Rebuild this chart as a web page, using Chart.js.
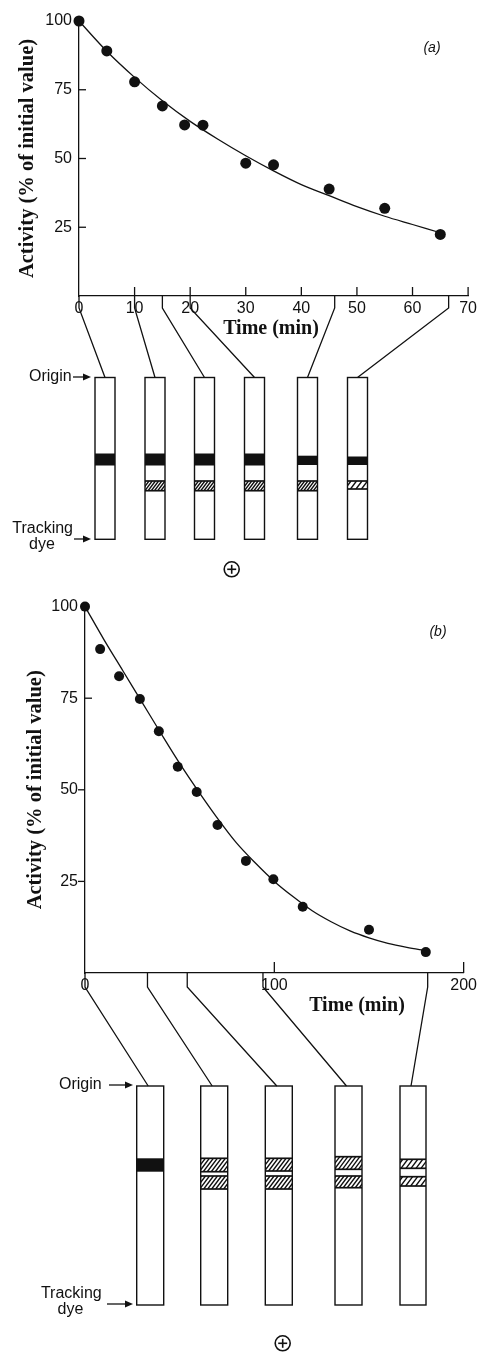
<!DOCTYPE html>
<html>
<head>
<meta charset="utf-8">
<title>Activity decay and gel lanes</title>
<script src="https://cdn.jsdelivr.net/npm/chart.js@4.4.1/dist/chart.umd.min.js"></script>
<style>
    html, body { margin: 0; padding: 0; background: #fff; }
    #wrap { position: relative; width: 480px; height: 1352px; overflow: hidden; }
    canvas { position: absolute; left: 0; }
    #chartA { top: 0; }
    #chartB { top: 590px; }
</style>
</head>
<body>
<div id="wrap">
    <canvas id="chartA" width="480" height="590" style="width:480px;height:590px"></canvas>
    <canvas id="chartB" width="480" height="762" style="width:480px;height:762px"></canvas>
</div>
<script>
// ---- panel (a) data ----
const timeA = [0, 5, 10, 15, 19, 22.3, 30, 35, 45, 55, 65];
const activityA = [100, 89.1, 77.9, 69.1, 62.2, 62.1, 48.3, 47.7, 38.9, 31.9, 22.4];
const fitTimeA = [0, 5, 10, 15, 20, 25, 30, 35, 40, 45, 50, 55, 60, 65];
const fitActivityA = [100, 89, 79.5, 71, 63.5, 57, 51, 45.5, 40.5, 36.5, 32.5, 29, 26, 23];
const gelTimeA = [0, 10, 15, 20, 46, 66.5];
const xTickMarksA = [10, 20, 30, 40, 50, 60, 70];

// ---- panel (b) data ----
const timeB = [0, 8, 18, 29, 39, 49, 59, 70, 85, 99.5, 115, 150, 180];
const activityB = [100, 88.4, 81, 74.8, 66, 56.3, 49.4, 40.4, 30.6, 25.6, 18.1, 11.8, 5.7];
const fitTimeB = [0, 10, 20, 30, 40, 50, 60, 70, 80, 90, 100, 110, 120, 130, 140, 150, 160, 170, 180];
const fitActivityB = [100, 91, 82.5, 74, 65.5, 57.2, 49.5, 42.2, 35.5, 30, 25, 20.8, 17, 14, 11.5, 9.6, 8.1, 7, 6.1];
const gelTimeB = [0, 33, 54, 94, 181];
const xTickMarksB = [100, 200];

// shared
const yTitle = 'Activity (% of initial value)';
const xTitle = 'Time (min)';

const INK = '#111';
const SANS = '"Liberation Sans", Arial, sans-serif';
const SERIF = '"Liberation Serif", "Times New Roman", serif';

Chart.defaults.font.family = SANS;
Chart.defaults.color = INK;

// gel drawing layout (pixels, per canvas)
const gelA = {
    laneLeft: [95, 145, 194.5, 244.5, 297.5, 347.5],
    laneWidth: [20, 20, 20, 20, 20, 20],
    top: 377.5, bottom: 539.3, drop: 12, endShift: 0,
    bands: [
        [['dark', 453.5, 465.5]],
        [['dark', 453.5, 465.5], ['hatch', 481, 490.7, 3.2]],
        [['dark', 453.5, 465.5], ['hatch', 481, 490.7, 3.2]],
        [['dark', 453.5, 465.5], ['hatch', 481, 490.7, 3.2]],
        [['dark', 455.7, 465], ['hatch', 481, 490.7, 3.2]],
        [['dark', 456.5, 465], ['hatch', 481, 489, 5.5]]
    ],
    origin: { right: 71.7, y: 377, x0: 73, x1: 91 },
    tracking: { right: 73, y: 528.3, dyeX: 42, dyeY: 544.3, ay: 539, x0: 74, x1: 91 },
    plus: { x: 231.7, y: 569.3, r: 7.5 },
    title: { x: 271, y: 329 },
    tag: { text: '(a)', x: 432, y: 48 },
    xTickLen: 9,
    yTicks: [[25, 1], [50, 1], [75, 1]]
};

const gelB = {
    laneLeft: [136.7, 200.7, 265.3, 335, 400],
    laneWidth: [27, 27, 27, 27, 26],
    top: 496, bottom: 715, drop: 14, endShift: -2,
    bands: [
        [['dark', 568.3, 581.7]],
        [['hatch', 568.3, 581.7, 4], ['hatch', 586, 599, 4]],
        [['hatch', 568.3, 581, 4], ['hatch', 586, 599, 4]],
        [['hatch', 566.7, 579.3, 4], ['hatch', 586, 597.7, 4]],
        [['hatch', 569.3, 578.3, 5], ['hatch', 586.7, 596, 5]]
    ],
    origin: { right: 101.7, y: 495, x0: 109, x1: 133 },
    tracking: { right: 101.7, y: 703.3, dyeX: 70.5, dyeY: 720, ay: 714, x0: 107, x1: 133 },
    plus: { x: 282.7, y: 753.3, r: 7.5 },
    title: { x: 357, y: 416 },
    tag: { text: '(b)', x: 438, y: 42 },
    xTickLen: 11,
    yTicks: [[25, -1], [50, -1], [75, 1]]
};

function strokeLine(ctx, x0, y0, x1, y1) {
    ctx.beginPath();
    ctx.moveTo(x0, y0);
    ctx.lineTo(x1, y1);
    ctx.stroke();
}

function drawArrow(ctx, x0, x1, y) {
    strokeLine(ctx, x0, y, x1 - 5, y);
    ctx.beginPath();
    ctx.moveTo(x1, y);
    ctx.lineTo(x1 - 8, y - 3.5);
    ctx.lineTo(x1 - 8, y + 3.5);
    ctx.closePath();
    ctx.fill();
}

function drawHatch(ctx, x, w, y0, y1, gap) {
    const h = y1 - y0;
    ctx.save();
    ctx.beginPath();
    ctx.rect(x, y0, w, h);
    ctx.clip();
    ctx.lineWidth = 1.4;
    ctx.beginPath();
    for (let s = -h; s < w + h; s += gap) {
        ctx.moveTo(x + s, y1);
        ctx.lineTo(x + s + h * 0.75, y0);
    }
    ctx.stroke();
    ctx.restore();
    ctx.lineWidth = 1.7;
    strokeLine(ctx, x, y0, x + w, y0);
    strokeLine(ctx, x, y1, x + w, y1);
}

function gelPlugin(g, gelTimes, xTickMarks) {
    return {
        id: 'gel',
        afterDraw(chart) {
            const ctx = chart.ctx;
            const xs = chart.scales.x;
            const ys = chart.scales.y;
            const area = chart.chartArea;
            ctx.save();
            ctx.strokeStyle = INK;
            ctx.fillStyle = INK;
            ctx.lineWidth = 1.3;

            // inward axis ticks
            xTickMarks.forEach(v => {
                const x = xs.getPixelForValue(v);
                strokeLine(ctx, x, area.bottom, x, area.bottom - g.xTickLen);
            });
            g.yTicks.forEach(([v, dir]) => {
                const y = ys.getPixelForValue(v);
                strokeLine(ctx, area.left, y, area.left + dir * 7, y);
            });

            // connectors from sampling times to lanes
            gelTimes.forEach((t, i) => {
                const x = xs.getPixelForValue(t);
                const cx = g.laneLeft[i] + g.laneWidth[i] / 2 + g.endShift;
                ctx.beginPath();
                ctx.moveTo(x, area.bottom);
                ctx.lineTo(x, area.bottom + g.drop);
                ctx.lineTo(cx, g.top);
                ctx.stroke();
            });

            // lanes and bands
            g.laneLeft.forEach((lx, i) => {
                const w = g.laneWidth[i];
                ctx.lineWidth = 1.4;
                ctx.strokeRect(lx, g.top, w, g.bottom - g.top);
                g.bands[i].forEach(b => {
                    if (b[0] === 'dark') {
                        ctx.fillRect(lx, b[1], w, b[2] - b[1]);
                    } else {
                        drawHatch(ctx, lx, w, b[1], b[2], b[3]);
                    }
                });
            });

            // side labels
            ctx.lineWidth = 1.3;
            ctx.font = '16px ' + SANS;
            ctx.textBaseline = 'middle';
            ctx.textAlign = 'right';
            ctx.fillText('Origin', g.origin.right, g.origin.y);
            drawArrow(ctx, g.origin.x0, g.origin.x1, g.origin.y);
            ctx.fillText('Tracking', g.tracking.right, g.tracking.y);
            ctx.textAlign = 'center';
            ctx.fillText('dye', g.tracking.dyeX, g.tracking.dyeY);
            drawArrow(ctx, g.tracking.x0, g.tracking.x1, g.tracking.ay);

            // anode symbol
            ctx.lineWidth = 1.6;
            ctx.beginPath();
            ctx.arc(g.plus.x, g.plus.y, g.plus.r, 0, Math.PI * 2);
            ctx.stroke();
            strokeLine(ctx, g.plus.x - 4.5, g.plus.y, g.plus.x + 4.5, g.plus.y);
            strokeLine(ctx, g.plus.x, g.plus.y - 4.5, g.plus.x, g.plus.y + 4.5);

            // x title and panel tag
            ctx.font = 'bold 20px ' + SERIF;
            ctx.fillText(xTitle, g.title.x, g.title.y);
            ctx.font = 'italic 14px ' + SANS;
            ctx.fillText(g.tag.text, g.tag.x, g.tag.y);
            ctx.restore();
        }
    };
}

function makeChart(id, opts) {
    const points = opts.time.map((t, i) => ({ x: t, y: opts.activity[i] }));
    const fit = opts.fitTime.map((t, i) => ({ x: t, y: opts.fitActivity[i] }));
    return new Chart(document.getElementById(id), {
        type: 'scatter',
        data: {
            datasets: [
                {
                    label: 'Measured',
                    data: points,
                    pointRadius: opts.radius,
                    pointHoverRadius: opts.radius,
                    pointBackgroundColor: INK,
                    pointBorderWidth: 0,
                    clip: false,
                    order: 1
                },
                {
                    type: 'line',
                    label: 'Fit',
                    data: fit,
                    borderColor: INK,
                    borderWidth: 1.3,
                    pointRadius: 0,
                    cubicInterpolationMode: 'monotone',
                    fill: false,
                    clip: false,
                    order: 2
                }
            ]
        },
        options: {
            responsive: false,
            animation: false,
            layout: { padding: opts.padding },
            plugins: { legend: { display: false }, tooltip: { enabled: false } },
            scales: {
                x: {
                    type: 'linear',
                    min: 0,
                    max: opts.xMax,
                    afterFit: s => { s.height = 40; },
                    grid: { display: false, drawTicks: false },
                    border: { display: true, color: INK, width: 1.3 },
                    ticks: { stepSize: opts.xStep, padding: 3, font: { size: 16 }, color: INK }
                },
                y: {
                    min: 0,
                    max: 100,
                    afterFit: s => { s.width = opts.yWidth; },
                    grid: { display: false, drawTicks: false },
                    border: { display: true, color: INK, width: 1.3 },
                    ticks: {
                        stepSize: 25,
                        padding: 7,
                        font: { size: 16 },
                        color: INK,
                        callback: v => (v === 0 ? '' : v)
                    },
                    title: {
                        display: true,
                        text: yTitle,
                        color: INK,
                        font: { family: SERIF, size: 20.5, weight: 'bold' },
                        padding: { top: opts.titlePad, bottom: 0 }
                    }
                }
            }
        },
        plugins: [gelPlugin(opts.gel, opts.gelTimes, opts.xTickMarks)]
    });
}

makeChart('chartA', {
    time: timeA, activity: activityA, fitTime: fitTimeA, fitActivity: fitActivityA,
    gel: gelA, gelTimes: gelTimeA, xTickMarks: xTickMarksA,
    xMax: 70, xStep: 10, radius: 5.5, yWidth: 79, titlePad: 15,
    padding: { left: 0, top: 21, right: 11, bottom: 254 }
});

makeChart('chartB', {
    time: timeB, activity: activityB, fitTime: fitTimeB, fitActivity: fitActivityB,
    gel: gelB, gelTimes: gelTimeB, xTickMarks: xTickMarksB,
    xMax: 200, xStep: 100, radius: 5, yWidth: 85, titlePad: 23,
    padding: { left: 0, top: 11, right: 16, bottom: 339 }
});
</script>
</body>
</html>
